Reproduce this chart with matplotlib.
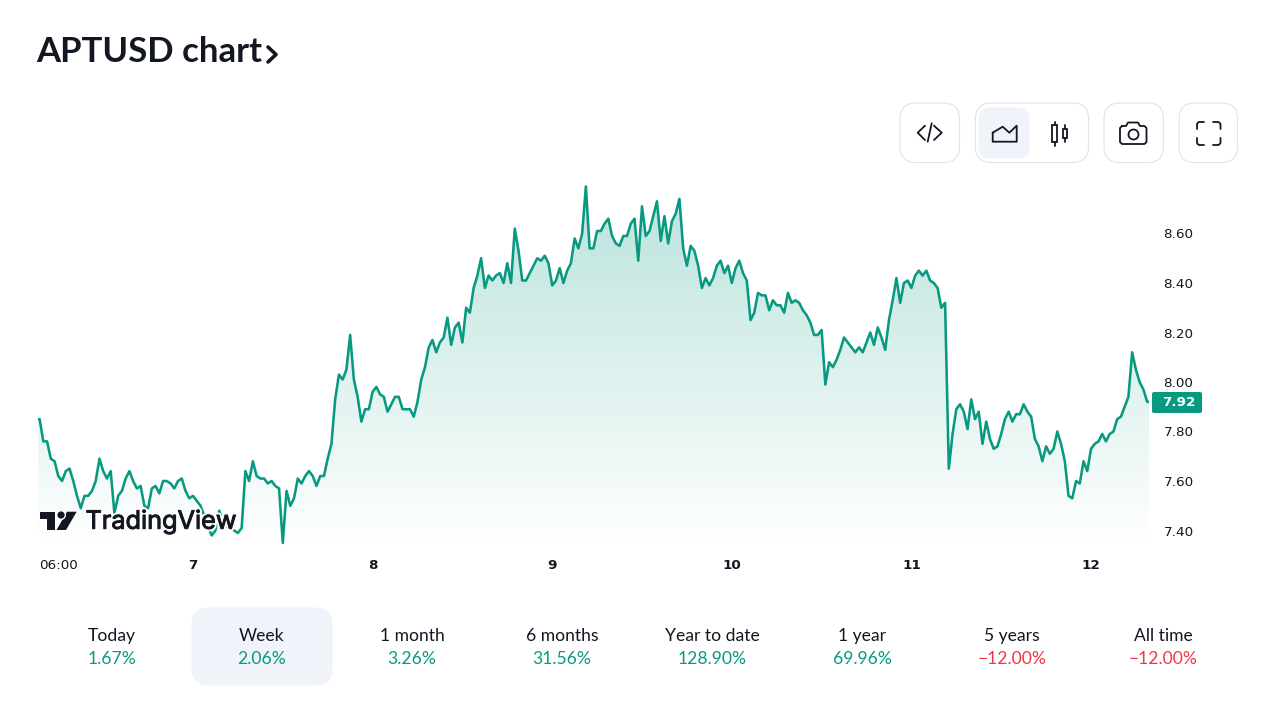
"""APTUSD chart, week view"""
import numpy as np
import matplotlib
matplotlib.use("Agg")
import matplotlib.pyplot as plt
from matplotlib.patches import FancyBboxPatch, PathPatch, Circle, Polygon, Rectangle
from matplotlib.path import Path
import matplotlib.patheffects as pe

GREEN = "#089981"
RED = "#f23645"
DARK = "#131722"
BORDER = "#e0e3eb"
SELECTED = "#f0f3fa"
UI_FONT = ["Lato", "DejaVu Sans"]

# half hour closes, one list per day of the month
day6 = [7.85, 7.85, 7.76, 7.76, 7.69, 7.68, 7.62, 7.60, 7.64, 7.65, 7.60, 7.54, 7.49, 7.54,
        7.54, 7.56, 7.60, 7.69, 7.64, 7.61, 7.64, 7.47, 7.54, 7.56, 7.61, 7.64, 7.60, 7.57,
        7.58, 7.50, 7.49, 7.57, 7.58, 7.55, 7.60, 7.60, 7.59, 7.57, 7.60, 7.61, 7.56, 7.53]
day7 = [7.54, 7.52, 7.50, 7.46, 7.415, 7.38, 7.40, 7.48, 7.44, 7.415, 7.41, 7.40, 7.39, 7.41,
        7.64, 7.60, 7.68, 7.62, 7.61, 7.61, 7.59, 7.60, 7.58, 7.57, 7.35, 7.56, 7.50, 7.53,
        7.61, 7.59, 7.62, 7.64, 7.62, 7.58, 7.62, 7.62, 7.69, 7.75, 7.93, 8.03, 8.01, 8.05,
        8.19, 8.01, 7.94, 7.84, 7.89, 7.89]
day8 = [7.96, 7.98, 7.95, 7.94, 7.88, 7.91, 7.94, 7.94, 7.89, 7.89, 7.89, 7.86, 7.92, 8.01,
        8.06, 8.14, 8.17, 8.12, 8.16, 8.18, 8.26, 8.15, 8.22, 8.24, 8.16, 8.30, 8.28, 8.38,
        8.43, 8.50, 8.38, 8.43, 8.41, 8.43, 8.44, 8.40, 8.48, 8.40, 8.62, 8.53, 8.41, 8.41,
        8.44, 8.47, 8.50, 8.49, 8.51, 8.48]
day9 = [8.39, 8.41, 8.46, 8.40, 8.45, 8.48, 8.58, 8.54, 8.60, 8.79, 8.54, 8.54, 8.61, 8.61,
        8.64, 8.66, 8.59, 8.56, 8.55, 8.59, 8.59, 8.64, 8.66, 8.49, 8.71, 8.59, 8.61, 8.67,
        8.73, 8.57, 8.67, 8.56, 8.65, 8.68, 8.74, 8.54, 8.47, 8.55, 8.53, 8.47, 8.38, 8.42,
        8.39, 8.42, 8.47, 8.49, 8.44, 8.47]
day10 = [8.40, 8.46, 8.49, 8.44, 8.41, 8.25, 8.28, 8.36, 8.35, 8.35, 8.29, 8.33, 8.31, 8.31,
         8.28, 8.36, 8.32, 8.33, 8.32, 8.29, 8.27, 8.24, 8.19, 8.19, 8.21, 7.99, 8.08, 8.06,
         8.09, 8.13, 8.18, 8.16, 8.14, 8.12, 8.14, 8.12, 8.16, 8.20, 8.15, 8.22, 8.18, 8.13,
         8.25, 8.33, 8.42, 8.32, 8.40, 8.41]
day11 = [8.38, 8.43, 8.45, 8.43, 8.45, 8.41, 8.40, 8.38, 8.30, 8.32, 7.65, 7.79, 7.89, 7.91,
         7.88, 7.81, 7.93, 7.85, 7.88, 7.75, 7.84, 7.77, 7.73, 7.74, 7.79, 7.85, 7.88, 7.84,
         7.87, 7.87, 7.91, 7.88, 7.86, 7.77, 7.74, 7.68, 7.74, 7.71, 7.73, 7.80, 7.75, 7.68,
         7.54, 7.53, 7.60, 7.59, 7.68, 7.64]
day12 = [7.73, 7.75, 7.76, 7.79, 7.76, 7.79, 7.80, 7.85, 7.86, 7.90, 7.94, 8.12, 8.05, 8.00,
         7.97, 7.92, 7.92]

price_ticks = [7.40, 7.60, 7.80, 8.00, 8.20, 8.40, 8.60]
day_ticks = [6.25, 7, 8, 9, 10, 11, 12]
day_labels = ["06:00", "7", "8", "9", "10", "11", "12"]
last_price = 7.92

periods = ["Today", "Week", "1 month", "6 months", "Year to date", "1 year", "5 years", "All time"]
changes = ["1.67%", "2.06%", "3.26%", "31.56%", "128.90%", "69.96%", "\u221212.00%", "\u221212.00%"]

# the time axis: each day list ends on the next midnight or runs on from its own
times = []
prices = []
for d, vals in [(6, day6), (7, day7), (8, day8), (9, day9), (10, day10), (11, day11), (12, day12)]:
    for i, v in enumerate(vals):
        if d == 6:
            times.append(7 - (len(vals) - i) / 48)
        else:
            times.append(d + i / 48)
        prices.append(v)
times = np.array(times)
prices = np.array(prices)

fig = plt.figure(figsize=(12.8, 7.2), dpi=100, facecolor="white")

# chart area in pixels: x 38..1149, y 170..546
ax = fig.add_axes([38 / 1280, 1 - 546 / 720, (1149 - 38) / 1280, (546 - 170) / 720])
xlim = (7 + (38 - 193) / 179.6, 7 + (1149 - 193) / 179.6)
ylim = (7.40 + (530.5 - 546) / 247.5, 7.40 + (530.5 - 170) / 247.5)

# vertical gradient under the line
grad = np.zeros((256, 1, 4))
grad[:, 0, 0] = 8 / 255
grad[:, 0, 1] = 153 / 255
grad[:, 0, 2] = 129 / 255
grad[:, 0, 3] = np.linspace(0.28, 0.0, 256)
area = ax.fill_between(times, prices, ylim[0], facecolor="none", edgecolor="none")
img = ax.imshow(grad, aspect="auto", extent=(xlim[0], xlim[1], ylim[0], prices.max()),
                origin="upper", zorder=1)
img.set_clip_path(area.get_paths()[0], ax.transData)
ax.plot(times, prices, color=GREEN, lw=1.85, zorder=2, solid_joinstyle="round")

ax.set_xlim(xlim)
ax.set_ylim(ylim)
for s in ax.spines.values():
    s.set_visible(False)
ax.patch.set_alpha(0)
ax.yaxis.tick_right()
ax.set_yticks(price_ticks)
ax.set_yticklabels(["%.2f" % p for p in price_ticks], fontsize=9.7, color=DARK)
ax.set_xticks(day_ticks)
ax.set_xticklabels(day_labels, fontsize=9.7, color=DARK)
for lab in ax.get_xticklabels()[1:]:
    lab.set_fontweight("bold")
ax.tick_params(axis="both", length=0)
ax.tick_params(axis="y", pad=10.5)
ax.tick_params(axis="x", pad=9.5)

# everything else sits on an overlay measured in pixels
ui = fig.add_axes([0, 0, 1, 1])
ui.set_xlim(0, 1280)
ui.set_ylim(720, 0)
ui.axis("off")
ui.patch.set_alpha(0)


def caja(x0, y0, x1, y1, radio, fondo="white", borde=BORDER, lw=0.8):
    ui.add_patch(FancyBboxPatch((x0 + radio, y0 + radio), x1 - x0 - 2 * radio, y1 - y0 - 2 * radio,
                                boxstyle="round,pad=%s,rounding_size=%s" % (radio, radio),
                                facecolor=fondo, edgecolor=borde, lw=lw))


def trazo(xs, ys, lw=1.3):
    ui.plot(xs, ys, color=DARK, lw=lw, solid_capstyle="round", solid_joinstyle="round")


def esquina(p0, c, p1):
    # one corner of the fullscreen icon, straight arms with a small round
    c = np.array(c, dtype=float)
    a = c + (np.array(p0) - c) * 0.4
    b = c + (np.array(p1) - c) * 0.4
    return Path([p0, a, c, b, p1],
                [Path.MOVETO, Path.LINETO, Path.CURVE3, Path.CURVE3, Path.LINETO])


# title
ui.text(36.5, 52.5, "APTUSD chart", fontsize=25, fontweight="bold", color=DARK, family=UI_FONT,
        ha="left", va="center")
trazo([268, 276, 268], [47, 54.5, 62], lw=2.6)

# toolbar buttons
caja(900, 103, 959.5, 162.5, 16)
caja(975.5, 103, 1088.5, 162.5, 16)
caja(979, 108, 1029, 158, 11, fondo=SELECTED, borde=SELECTED)
caja(1104, 103, 1163.5, 162.5, 16)
caja(1179, 103, 1237.5, 162.5, 16)

# embed icon
trazo([925, 917.7, 925], [125.7, 132.7, 140])
trazo([931.7, 927.7], [123.3, 141.7])
trazo([934, 941.7, 934], [125.7, 132.7, 140])
# area icon
trazo([992.7, 1002.7, 1009.3, 1016.7, 1016.7, 992.7, 992.7],
      [132.7, 126.7, 132.7, 125.7, 141.7, 141.7, 132.7])
# candle icon
ui.add_patch(Rectangle((1052.3, 125), 4.4, 16.7, fill=False, edgecolor=DARK, lw=1.3))
trazo([1054.5, 1054.5], [121.7, 125])
trazo([1054.5, 1054.5], [141.7, 145.7])
ui.add_patch(Rectangle((1063, 129.3), 4.4, 9, fill=False, edgecolor=DARK, lw=1.3))
trazo([1065.2, 1065.2], [125, 129.3])
trazo([1065.2, 1065.2], [138.3, 141.7])
# camera icon
trazo([1122, 1126, 1128, 1138, 1140, 1144.5, 1146.5, 1146.5, 1144.5, 1122, 1120, 1120, 1122],
      [126, 126, 122.5, 122.5, 126, 126, 128, 142, 144, 144, 142, 128, 126])
ui.add_patch(Circle((1133.5, 134.5), 5, fill=False, edgecolor=DARK, lw=1.3))
# fullscreen icon
for p0, c, p1 in [((1197, 129), (1197, 122), (1204, 122)),
                  ((1213, 122), (1220.5, 122), (1220.5, 129)),
                  ((1197, 138), (1197, 145), (1204, 145)),
                  ((1213, 145), (1220.5, 145), (1220.5, 138))]:
    ui.add_patch(PathPatch(esquina(p0, c, p1), fill=False, edgecolor=DARK, lw=1.3, capstyle="round"))

# last price tag
caja(1152, 392, 1202, 413, 2, fondo=GREEN, borde=GREEN, lw=0)
ui.text(1179, 402.5, "%.2f" % last_price, fontsize=9.7, fontweight="bold", color="white",
        ha="center", va="center")

# TradingView logo, with a white halo over the line
logo_t = Polygon([(39.5, 511.7), (55, 511.7), (55, 530), (47, 530), (47, 518.5), (39.5, 518.5)],
                 facecolor=DARK, edgecolor="none")
logo_s = Polygon([(67, 511.7), (76.7, 511.7), (66, 530), (56.5, 530)], facecolor=DARK, edgecolor="none")
logo_c = Circle((61, 515), 3.6, facecolor=DARK, edgecolor="none")
for logo in (logo_t, logo_s, logo_c):
    logo.set_path_effects([pe.withStroke(linewidth=2, foreground="white")])
    ui.add_patch(logo)
ui.text(85.5, 522, "TradingView", fontsize=18.2, color=DARK, family=["Inter", "DejaVu Sans"],
        ha="left", va="center",
        path_effects=[pe.Stroke(linewidth=3.4, foreground="white"),
                      pe.Stroke(linewidth=0.7, foreground=DARK), pe.Normal()])

# period tabs
caja(192, 608, 332, 685, 17, fondo=SELECTED, borde=SELECTED)
for i in range(len(periods)):
    cx = 112 + i * 150
    if i == 7:
        cx = 1163
    color = RED if changes[i].startswith("\u2212") else GREEN
    ui.text(cx, 636, periods[i], fontsize=12.6, color=DARK, family=UI_FONT, ha="center", va="center")
    ui.text(cx, 659, changes[i], fontsize=12.6, color=color, family=UI_FONT, ha="center", va="center")

fig.savefig("out.png", dpi=100, facecolor="white")
